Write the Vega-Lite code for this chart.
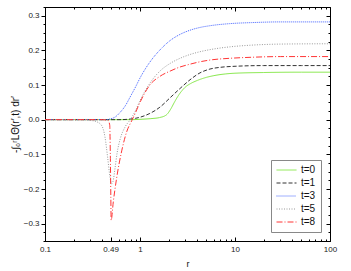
{
  "$schema": "https://vega.github.io/schema/vega-lite/v6.json",
  "width": 285,
  "height": 234,
  "autosize": {"type": "none"},
  "padding": {"left": 45, "top": 7, "right": 21, "bottom": 30},
  "config": {
    "font": "Liberation Sans",
    "view": {"stroke": "#000", "strokeWidth": 1},
    "axis": {"grid": false, "labelFlush": false, "labelFont": "Liberation Sans", "labelFontSize": 8, "labelColor": "#222", "tickColor": "#000", "domainColor": "#000", "titleFont": "Liberation Sans", "titleFontWeight": "normal", "titleColor": "#111"}
  },
  "data": {"values": [
    {"t": "t=0", "r": 0.1, "v": 0}, {"t": "t=0", "r": 0.3, "v": 0}, {"t": "t=0", "r": 0.5, "v": 0}, {"t": "t=0", "r": 0.8, "v": 0},
    {"t": "t=0", "r": 1.0, "v": 0.001}, {"t": "t=0", "r": 1.3, "v": 0.003}, {"t": "t=0", "r": 1.6, "v": 0.006}, {"t": "t=0", "r": 1.9, "v": 0.014},
    {"t": "t=0", "r": 2.1, "v": 0.03}, {"t": "t=0", "r": 2.3, "v": 0.05}, {"t": "t=0", "r": 2.5, "v": 0.067}, {"t": "t=0", "r": 2.7, "v": 0.08},
    {"t": "t=0", "r": 3.0, "v": 0.094}, {"t": "t=0", "r": 3.4, "v": 0.104}, {"t": "t=0", "r": 4.0, "v": 0.113}, {"t": "t=0", "r": 5.0, "v": 0.122},
    {"t": "t=0", "r": 6.0, "v": 0.127}, {"t": "t=0", "r": 8.0, "v": 0.132}, {"t": "t=0", "r": 10, "v": 0.134}, {"t": "t=0", "r": 20, "v": 0.136},
    {"t": "t=0", "r": 50, "v": 0.137}, {"t": "t=0", "r": 100, "v": 0.137},

    {"t": "t=1", "r": 0.1, "v": 0}, {"t": "t=1", "r": 0.6, "v": 0}, {"t": "t=1", "r": 0.8, "v": 0.002}, {"t": "t=1", "r": 0.9, "v": 0.004},
    {"t": "t=1", "r": 1.0, "v": 0.007}, {"t": "t=1", "r": 1.27, "v": 0.018}, {"t": "t=1", "r": 1.62, "v": 0.036}, {"t": "t=1", "r": 2.07, "v": 0.063},
    {"t": "t=1", "r": 2.64, "v": 0.09}, {"t": "t=1", "r": 3.36, "v": 0.115}, {"t": "t=1", "r": 4.28, "v": 0.135}, {"t": "t=1", "r": 5.45, "v": 0.146},
    {"t": "t=1", "r": 7, "v": 0.151}, {"t": "t=1", "r": 10, "v": 0.154}, {"t": "t=1", "r": 20, "v": 0.156}, {"t": "t=1", "r": 50, "v": 0.156}, {"t": "t=1", "r": 100, "v": 0.156},

    {"t": "t=3", "r": 0.1, "v": 0}, {"t": "t=3", "r": 0.45, "v": 0}, {"t": "t=3", "r": 0.483, "v": 0.002}, {"t": "t=3", "r": 0.55, "v": 0.008},
    {"t": "t=3", "r": 0.617, "v": 0.021}, {"t": "t=3", "r": 0.7, "v": 0.04}, {"t": "t=3", "r": 0.786, "v": 0.065}, {"t": "t=3", "r": 0.9, "v": 0.095},
    {"t": "t=3", "r": 1.0, "v": 0.12}, {"t": "t=3", "r": 1.27, "v": 0.166}, {"t": "t=3", "r": 1.62, "v": 0.201}, {"t": "t=3", "r": 2.07, "v": 0.228},
    {"t": "t=3", "r": 2.64, "v": 0.246}, {"t": "t=3", "r": 3.36, "v": 0.258}, {"t": "t=3", "r": 4.28, "v": 0.266}, {"t": "t=3", "r": 5.45, "v": 0.271},
    {"t": "t=3", "r": 8.8, "v": 0.277}, {"t": "t=3", "r": 15, "v": 0.28}, {"t": "t=3", "r": 30, "v": 0.282}, {"t": "t=3", "r": 100, "v": 0.282},

    {"t": "t=5", "r": 0.1, "v": 0}, {"t": "t=5", "r": 0.25, "v": 0}, {"t": "t=5", "r": 0.3, "v": -0.002}, {"t": "t=5", "r": 0.35, "v": -0.006},
    {"t": "t=5", "r": 0.395, "v": -0.017}, {"t": "t=5", "r": 0.428, "v": -0.05}, {"t": "t=5", "r": 0.457, "v": -0.11}, {"t": "t=5", "r": 0.483, "v": -0.165},
    {"t": "t=5", "r": 0.503, "v": -0.185}, {"t": "t=5", "r": 0.52, "v": -0.178}, {"t": "t=5", "r": 0.546, "v": -0.14}, {"t": "t=5", "r": 0.575, "v": -0.095},
    {"t": "t=5", "r": 0.62, "v": -0.055}, {"t": "t=5", "r": 0.7, "v": -0.02}, {"t": "t=5", "r": 0.8, "v": 0.002}, {"t": "t=5", "r": 0.9, "v": 0.027},
    {"t": "t=5", "r": 1.0, "v": 0.055}, {"t": "t=5", "r": 1.27, "v": 0.105}, {"t": "t=5", "r": 1.62, "v": 0.14}, {"t": "t=5", "r": 2.07, "v": 0.162},
    {"t": "t=5", "r": 2.64, "v": 0.177}, {"t": "t=5", "r": 3.36, "v": 0.188}, {"t": "t=5", "r": 4.28, "v": 0.196}, {"t": "t=5", "r": 5.45, "v": 0.202},
    {"t": "t=5", "r": 8.8, "v": 0.21}, {"t": "t=5", "r": 15, "v": 0.215}, {"t": "t=5", "r": 30, "v": 0.218}, {"t": "t=5", "r": 100, "v": 0.219},

    {"t": "t=8", "r": 0.1, "v": 0}, {"t": "t=8", "r": 0.4, "v": 0}, {"t": "t=8", "r": 0.46, "v": -0.002}, {"t": "t=8", "r": 0.48, "v": -0.015},
    {"t": "t=8", "r": 0.487, "v": -0.1}, {"t": "t=8", "r": 0.493, "v": -0.22}, {"t": "t=8", "r": 0.497, "v": -0.29}, {"t": "t=8", "r": 0.524, "v": -0.236},
    {"t": "t=8", "r": 0.568, "v": -0.168}, {"t": "t=8", "r": 0.642, "v": -0.09}, {"t": "t=8", "r": 0.724, "v": -0.035}, {"t": "t=8", "r": 0.818, "v": -0.003},
    {"t": "t=8", "r": 0.886, "v": 0.017}, {"t": "t=8", "r": 1.0, "v": 0.05}, {"t": "t=8", "r": 1.27, "v": 0.1}, {"t": "t=8", "r": 1.62, "v": 0.125},
    {"t": "t=8", "r": 2.07, "v": 0.14}, {"t": "t=8", "r": 2.64, "v": 0.152}, {"t": "t=8", "r": 3.36, "v": 0.16}, {"t": "t=8", "r": 4.28, "v": 0.167},
    {"t": "t=8", "r": 5.45, "v": 0.172}, {"t": "t=8", "r": 8.8, "v": 0.177}, {"t": "t=8", "r": 15, "v": 0.18}, {"t": "t=8", "r": 30, "v": 0.182}, {"t": "t=8", "r": 100, "v": 0.182}
  ]},
  "layer": [
    {
      "mark": {"type": "line", "strokeWidth": 1, "interpolate": "monotone", "clip": true},
      "encoding": {
        "x": {"field": "r", "type": "quantitative",
          "scale": {"type": "log", "domain": [0.1, 100], "nice": false},
          "axis": {"orient": "bottom", "title": "r", "titleFontSize": 9, "titlePadding": 6,
            "values": [0.1,0.2,0.3,0.4,0.49,0.6,0.7,0.8,0.9,1,2,3,4,5,6,7,8,9,10,20,30,40,50,60,70,80,90,100],
            "format": "~g",
            "labelExpr": "indexof([0.1,0.49,1,10,100], datum.value) >= 0 ? datum.label : ''",
            "tickSize": {"condition": {"test": "indexof([0.1,0.49,1,10,100], datum.value) >= 0", "value": -4}, "value": -2},
            "labelPadding": 8, "domain": true}},
        "y": {"field": "v", "type": "quantitative",
          "scale": {"domain": [-0.35, 0.325], "nice": false, "zero": false},
          "axis": {"orient": "left", "title": "-∫₀ʳLΘ(r′,t) dr′", "titleFontSize": 10, "titlePadding": 3,
            "values": [-0.35,-0.325,-0.3,-0.275,-0.25,-0.225,-0.2,-0.175,-0.15,-0.125,-0.1,-0.075,-0.05,-0.025,0,0.025,0.05,0.075,0.1,0.125,0.15,0.175,0.2,0.225,0.25,0.275,0.3,0.325],
            "labelExpr": "abs(round(datum.value*40)) % 4 == 0 ? format(datum.value, '.1f') : ''",
            "tickSize": {"condition": {"test": "abs(round(datum.value*40)) % 4 == 0", "value": 4}, "value": 2},
            "labelPadding": 2, "domain": true}},
        "color": {"field": "t", "type": "nominal", "title": null,
          "scale": {"domain": ["t=0","t=1","t=3","t=5","t=8"], "range": ["#86e84a","#333333","#4060ff","#999999","#ff3535"]},
          "legend": {"orient": "none", "legendX": 226, "legendY": 153, "strokeColor": "#888", "fillColor": "#fff", "padding": 5,
            "symbolType": "stroke", "symbolSize": 400, "symbolStrokeWidth": 1, "labelFontSize": 10, "labelColor": "#111", "rowPadding": 3, "clipHeight": 10, "labelOffset": 4}},
        "strokeDash": {"field": "t", "type": "nominal", "title": null,
          "scale": {"domain": ["t=0","t=1","t=3","t=5","t=8"], "range": [[1,0],[4,2],[1,1],[1,1.5],[6,2,1,2]]}},
        "order": {"field": "r", "type": "quantitative"}
      }
    },
    {
      "mark": {"type": "line", "opacity": 0},
      "encoding": {
        "x": {"field": "r", "type": "quantitative",
          "axis": {"orient": "top", "title": null, "labels": false, "domain": false,
            "values": [0.1,0.2,0.3,0.4,0.5,0.6,0.7,0.8,0.9,1,2,3,4,5,6,7,8,9,10,20,30,40,50,60,70,80,90,100],
            "tickSize": {"condition": {"test": "indexof([0.1,1,10,100], datum.value) >= 0", "value": -4}, "value": -2}}},
        "y": {"field": "v", "type": "quantitative",
          "axis": {"orient": "right", "title": null, "labels": false, "domain": false,
            "values": [-0.35,-0.325,-0.3,-0.275,-0.25,-0.225,-0.2,-0.175,-0.15,-0.125,-0.1,-0.075,-0.05,-0.025,0,0.025,0.05,0.075,0.1,0.125,0.15,0.175,0.2,0.225,0.25,0.275,0.3,0.325],
            "tickSize": {"condition": {"test": "abs(round(datum.value*40)) % 4 == 0", "value": -4}, "value": -2}}},
        "detail": {"field": "t"}
      }
    }
  ],
  "resolve": {"axis": {"x": "independent", "y": "independent"}}
}
